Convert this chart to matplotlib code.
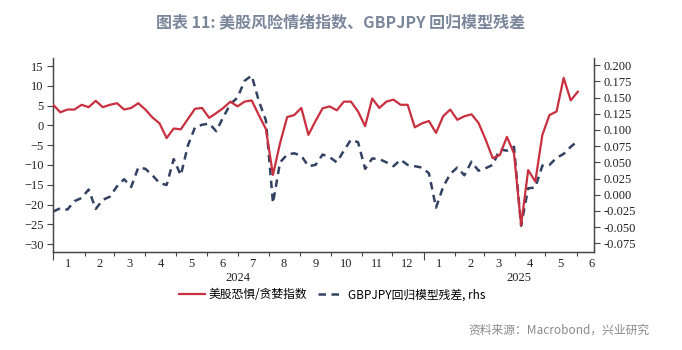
import matplotlib.pyplot as plt
import matplotlib.transforms as mtransforms
import pandas as pd

plt.rcParams['font.family'] = ['Noto Sans CJK SC', 'DejaVu Sans']

# weekly observations (Mondays), Jan 2024 - Jun 2025
dates = pd.date_range('2024-01-01', periods=75, freq='7D')

fear_greed = [5.2, 3.3, 4.0, 4.0, 5.2, 4.6, 6.2, 4.6, 5.2, 5.6,
              4.0, 4.4, 5.6, 4.0, 2.0, 0.5, -3.2, -0.8, -1.0, 1.6,
              4.2, 4.4, 1.9, 3.1, 4.4, 6.0, 4.8, 6.0, 6.3, 2.6,
              -0.9, -12.5, -4.5, 2.1, 2.6, 4.4, -2.4, 1.1, 4.3, 4.8,
              3.8, 6.0, 6.0, 3.5, -0.2, 6.8, 4.4, 6.0, 6.5, 5.2,
              5.2, -0.5, 0.5, 1.1, -1.9, 2.3, 4.0, 1.4, 2.3, 2.8,
              0.6, -3.6, -8.3, -7.5, -2.9, -7.1, -25.2, -11.3, -14.2, -2.4,
              2.6, 3.5, 12.0, 6.3, 8.5]

gbpjpy_resid = [-0.026, -0.021, -0.023, -0.010, -0.005, 0.008, -0.022, -0.008, -0.003, 0.013,
                0.024, 0.012, 0.042, 0.040, 0.030, 0.018, 0.015, 0.055, 0.030, 0.076,
                0.104, 0.108, 0.110, 0.098, 0.120, 0.140, 0.150, 0.176, 0.184, 0.145,
                0.115, -0.013, 0.050, 0.062, 0.064, 0.060, 0.044, 0.046, 0.062, 0.058,
                0.050, 0.068, 0.085, 0.081, 0.040, 0.056, 0.055, 0.050, 0.044, 0.054,
                0.046, 0.044, 0.042, 0.033, -0.020, 0.012, 0.032, 0.042, 0.030, 0.051,
                0.037, 0.041, 0.046, 0.070, 0.068, 0.074, -0.048, 0.010, 0.011, 0.045,
                0.046, 0.057, 0.063, 0.074, 0.083]

left_ticks = [-30, -25, -20, -15, -10, -5, 0, 5, 10, 15]
right_ticks = [-0.075, -0.050, -0.025, 0.000, 0.025, 0.050, 0.075, 0.100, 0.125, 0.150, 0.175, 0.200]
month_labels = ['1', '2', '3', '4', '5', '6', '7', '8', '9', '10', '11', '12',
                '1', '2', '3', '4', '5', '6']
year_labels = ['2024', '2025']

red = '#c9303f'
navy = '#334262'

fig = plt.figure(figsize=(6.82, 3.5), dpi=100)
ax = fig.add_axes([0.078, 0.28, 0.793, 0.554])
ax2 = ax.twinx()

l1, = ax.plot(dates, fear_greed, color=red, lw=1.6, label='美股恐惧/贪婪指数', zorder=3)
l2, = ax2.plot(dates, gbpjpy_resid, color=navy, lw=1.8, dashes=(3, 2.2),
               label='GBPJPY回归模型残差, rhs')

ax.set_zorder(ax2.get_zorder() + 1)
ax.patch.set_visible(False)

ax.set_xlim(pd.Timestamp('2024-01-01'), pd.Timestamp('2025-06-18'))
ax.set_ylim(-32, 17)
ax2.set_ylim(-0.0885, 0.211)

ax.set_yticks(left_ticks)
ax2.set_yticks(right_ticks)
ax2.set_yticklabels(['%.3f' % v for v in right_ticks])

serif = 'Liberation Serif'
for lab in ax.get_yticklabels() + ax2.get_yticklabels():
    lab.set_fontfamily(serif)
    lab.set_fontsize(9)
ax.tick_params(axis='y', length=4, width=0.8, pad=3, colors='#444444', labelcolor='#222222')
ax2.tick_params(axis='y', length=4, width=0.8, pad=3, colors='#444444', labelcolor='#222222')

# month boundary ticks, year boundary ticks longer
month_starts = pd.date_range('2024-01-01', '2025-06-01', freq='MS')
ax.set_xticks(month_starts, minor=True)
ax.set_xticks([pd.Timestamp('2024-01-01'), pd.Timestamp('2025-01-01')])
ax.set_xticklabels([])
ax.tick_params(axis='x', which='minor', length=3, width=0.8, colors='#444444')
ax.tick_params(axis='x', which='major', length=6, width=0.8, colors='#444444')
ax2.tick_params(axis='x', length=0)

for a in (ax, ax2):
    a.spines['top'].set_visible(False)
    for s in ('left', 'right', 'bottom'):
        a.spines[s].set_color('#444444')
        a.spines[s].set_linewidth(0.9)

trans = mtransforms.blended_transform_factory(ax.transData, ax.transAxes)
for d, lab in zip(month_starts, month_labels):
    mid = d + pd.Timedelta(days=15)
    ax.text(mid, -0.06, lab, transform=trans, ha='center', va='center',
            fontsize=9, family=serif, color='#222222', clip_on=False)
year_mid = [pd.Timestamp('2024-07-01'), pd.Timestamp('2025-04-05')]
for d, lab in zip(year_mid, year_labels):
    ax.text(d, -0.135, lab, transform=trans, ha='center', va='center',
            fontsize=9, family=serif, color='#222222', clip_on=False)

fig.legend([l1, l2], [l1.get_label(), l2.get_label()], loc='center',
           bbox_to_anchor=(0.487, 0.158), ncol=2, frameon=False, fontsize=8.5,
           handlelength=2.2, columnspacing=0.9, handletextpad=0.3)

fig.text(0.5, 0.935, '图表 11: 美股风险情绪指数、GBPJPY 回归模型残差', ha='center', va='center',
         fontsize=11.5, fontweight='bold', color='#7a879b')
fig.text(0.953, 0.057, '资料来源：Macrobond，兴业研究', ha='right', va='center',
         fontsize=8.5, color='#8a8a8a')

fig.savefig('out.png', dpi=100)
